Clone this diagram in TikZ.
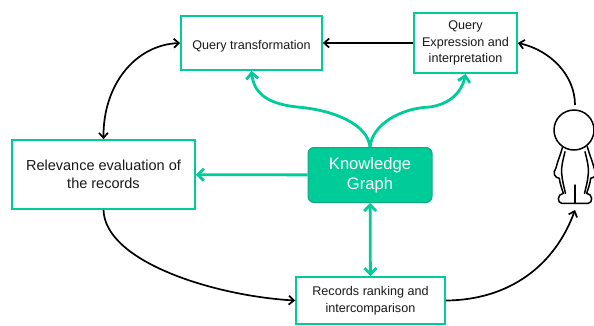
\documentclass[tikz,border=0pt]{standalone}
\usepackage{fontspec}
\setmainfont{Liberation Sans}
\usetikzlibrary{positioning, calc, arrows.meta}
\definecolor{kgreen}{HTML}{00CC99}
\definecolor{kedge}{HTML}{12A883}
\begin{document}
\begin{tikzpicture}[x=1pt, y=-1pt, >={Straight Barb[length=5pt,width=9pt]},
stage/.style={rectangle, draw=kgreen, line width=1.8pt, fill=white, align=center, inner sep=0pt, text=black!90},
small/.style={font=\fontsize{12.6}{16.5}\selectfont, execute at begin node={\rule{0pt}{15pt}}},
knowledge/.style={rectangle, rounded corners=6pt, draw=kedge, line width=1pt, fill=kgreen, align=center, inner sep=0pt, text=white, font=\fontsize{16.6}{20}\selectfont, execute at begin node={\rule{0pt}{18pt}}},
flow/.style={line width=1.7pt, black},
link/.style={line width=2.8pt, kgreen, >={Straight Barb[length=6pt,width=12pt]}},
figure/.style={line width=1.5pt, black, line cap=round} ]
\useasboundingbox (0,0) rectangle (594,325);
\node (Qt) [stage, small, minimum width=141pt, minimum height=54pt] at (251.5,43) {Query transformation};
\node (Qe) [stage, small, minimum width=103pt, minimum height=60pt] at (465.5,43) {Query\\Expression and\\interpretation};
\node (Re) [stage, minimum width=183pt, minimum height=69pt, font=\fontsize{14.5}{18}\selectfont] at (103.5,174.5) {Relevance evaluation of\\the records};
\node (Kg) [knowledge, minimum width=124pt, minimum height=55pt] at (370,175) {Knowledge\\Graph};
\node (Rr) [stage, small, minimum width=149pt, minimum height=47pt] at (370.5,300.5) {Records ranking and\\intercomparison};
\node (Head) [circle, draw=black, line width=1.5pt, minimum size=40pt, inner sep=0pt] at (574,130) {};
\coordinate (Top) at (575,105);
\coordinate (Feet) at (575,210);

% person
\foreach \s in {-1,1} {
\draw[figure] (575+\s*12.3,146.7) .. controls (575+\s*15,156) and (575+\s*18,163) .. (575+\s*19,168)
  .. controls (575+\s*23,173) and (575+\s*20,178) .. (575+\s*15.7,178.3)
  .. controls (575+\s*15,184) and (575+\s*13,189) .. (575+\s*11.7,193.3);
\draw[figure] (575+\s*10,151.7) .. controls (575+\s*12,160) and (575+\s*14,167) .. (575+\s*13.3,173.3)
  .. controls (575+\s*13,180) and (575+\s*11,187) .. (575+\s*9.5,193.5);
\draw[figure] (575+\s*11.7,193.3) .. controls (575+\s*18,194) and (575+\s*18,203) .. (575+\s*13.3,203.3) -- (575,203.3);
}
\draw[figure] (575,185) -- (575,203.3);

\draw[flow, ->] (Qe) -- (Qt);
\draw[flow, ->] (Top) .. controls (575,75) and (550,50) .. (Qe.east);
\draw[flow, <->] (Qt.west) .. controls (135,45) and (103,85) .. (Re.north);
\draw[flow, ->] (Re.south) .. controls (105,262) and (215,296) .. (Rr.west);
\draw[flow, ->] (Rr.east) .. controls (510,300) and (555,265) .. (Feet);

\draw[link, ->] (Kg) -- (Re);
\draw[link, <->] (Kg) -- (Rr);
\draw[link, ->] (Kg.north) .. controls (368,125) and (335,110) .. (297,107) .. controls (270,104) and (254,95) .. (Qt.south);
\draw[link, ->] (Kg.north) .. controls (372,125) and (400,108) .. (430,107) .. controls (450,104) and (462,92) .. (Qe.south);
\end{tikzpicture}
\end{document}
